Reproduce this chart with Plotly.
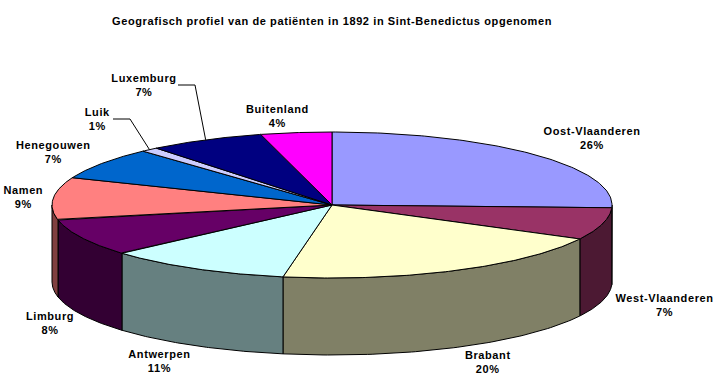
import numpy as np
import plotly.graph_objects as go

TITLE = "Geografisch profiel van de patiënten in 1892 in Sint-Benedictus opgenomen"
categories = ["Oost-Vlaanderen", "West-Vlaanderen", "Brabant", "Antwerpen", "Limburg",
              "Namen", "Henegouwen", "Luik", "Luxemburg", "Buitenland"]
values = [25.6, 7.1, 20.1, 10.7, 8.2, 9.4, 7.1, 1.0, 6.7, 4.1]
top_colors = ["#9999FF", "#993366", "#FFFFCC", "#CCFFFF", "#660066",
              "#FF8080", "#0066CC", "#CCCCFF", "#000080", "#FF00FF"]
side_colors = ["#4C4C80", "#4C1933", "#808066", "#668080", "#330033",
               "#804040", "#003366", "#666680", "#000040", "#800080"]
label_centers = [(592, 138), (664, 305), (488, 362), (159, 361), (50, 323),
                 (23, 197), (53, 152), (97, 119), (144, 85), (277, 116)]
leader_elbows = {"Luik": [(113, 119), (130, 119)], "Luxemburg": [(178, 85), (195, 85)]}

CX, CY, RX, RY, DEPTH = 332, 205, 280, 73, 77
BLACK = "#000000"

fracs = np.array(values) / sum(values)
ends = np.cumsum(fracs) * 2 * np.pi
starts = ends - fracs * 2 * np.pi


def px(t):
    return CX + RX * np.sin(t)


def py(t):
    return CY - RY * np.cos(t)


fig = go.Figure()

# side walls of the front half
for a, b, col in zip(starts, ends, side_colors):
    lo, hi = max(a, np.pi / 2), min(b, 3 * np.pi / 2)
    if hi <= lo:
        continue
    t = np.linspace(lo, hi, 80)
    x = np.r_[px(t), px(t[::-1])]
    y = np.r_[py(t), py(t[::-1]) + DEPTH]
    fig.add_trace(go.Scatter(x=np.r_[x, x[0]], y=np.r_[y, y[0]], mode="lines", fill="toself",
                             fillcolor=col, line=dict(color=BLACK, width=1), hoverinfo="skip"))

# top faces
for a, b, col in zip(starts, ends, top_colors):
    t = np.linspace(a, b, 120)
    x = np.r_[CX, px(t), CX]
    y = np.r_[CY, py(t), CY]
    fig.add_trace(go.Scatter(x=x, y=y, mode="lines", fill="toself", fillcolor=col,
                             line=dict(color=BLACK, width=1), hoverinfo="skip"))

# leader lines
for name, elbow in leader_elbows.items():
    i = categories.index(name)
    mid = (starts[i] + ends[i]) / 2
    xs = [p[0] for p in elbow] + [px(mid)]
    ys = [p[1] for p in elbow] + [py(mid)]
    fig.add_trace(go.Scatter(x=xs, y=ys, mode="lines", line=dict(color=BLACK, width=1),
                             hoverinfo="skip"))

for name, v, (lx, ly) in zip(categories, values, label_centers):
    fig.add_annotation(x=lx, y=ly, xref="x", yref="y", showarrow=False, align="center",
                       xanchor="center", yanchor="middle",
                       text=f"<b>{name}<br>{round(v)}%</b>",
                       font=dict(family="Liberation Sans", size=11, color=BLACK))

fig.add_annotation(x=332, y=21, xref="x", yref="y", showarrow=False, xanchor="center",
                   yanchor="middle", text=f"<b>{TITLE}</b>",
                   font=dict(family="Liberation Sans", size=11, color=BLACK))

fig.update_layout(width=725, height=383, margin=dict(l=0, r=0, t=0, b=0), showlegend=False,
                  paper_bgcolor="#FFFFFF", plot_bgcolor="#FFFFFF",
                  xaxis=dict(range=[0, 725], visible=False, fixedrange=True),
                  yaxis=dict(range=[383, 0], visible=False, fixedrange=True))

fig.write_html("out.html", config={"displayModeBar": False},
               post_script="document.body.style.margin='0';document.body.style.overflow='hidden';"
                           "var s=document.createElement('style');"
                           "s.textContent='.annotation-text{letter-spacing:0.6px}';"
                           "document.head.appendChild(s);")
